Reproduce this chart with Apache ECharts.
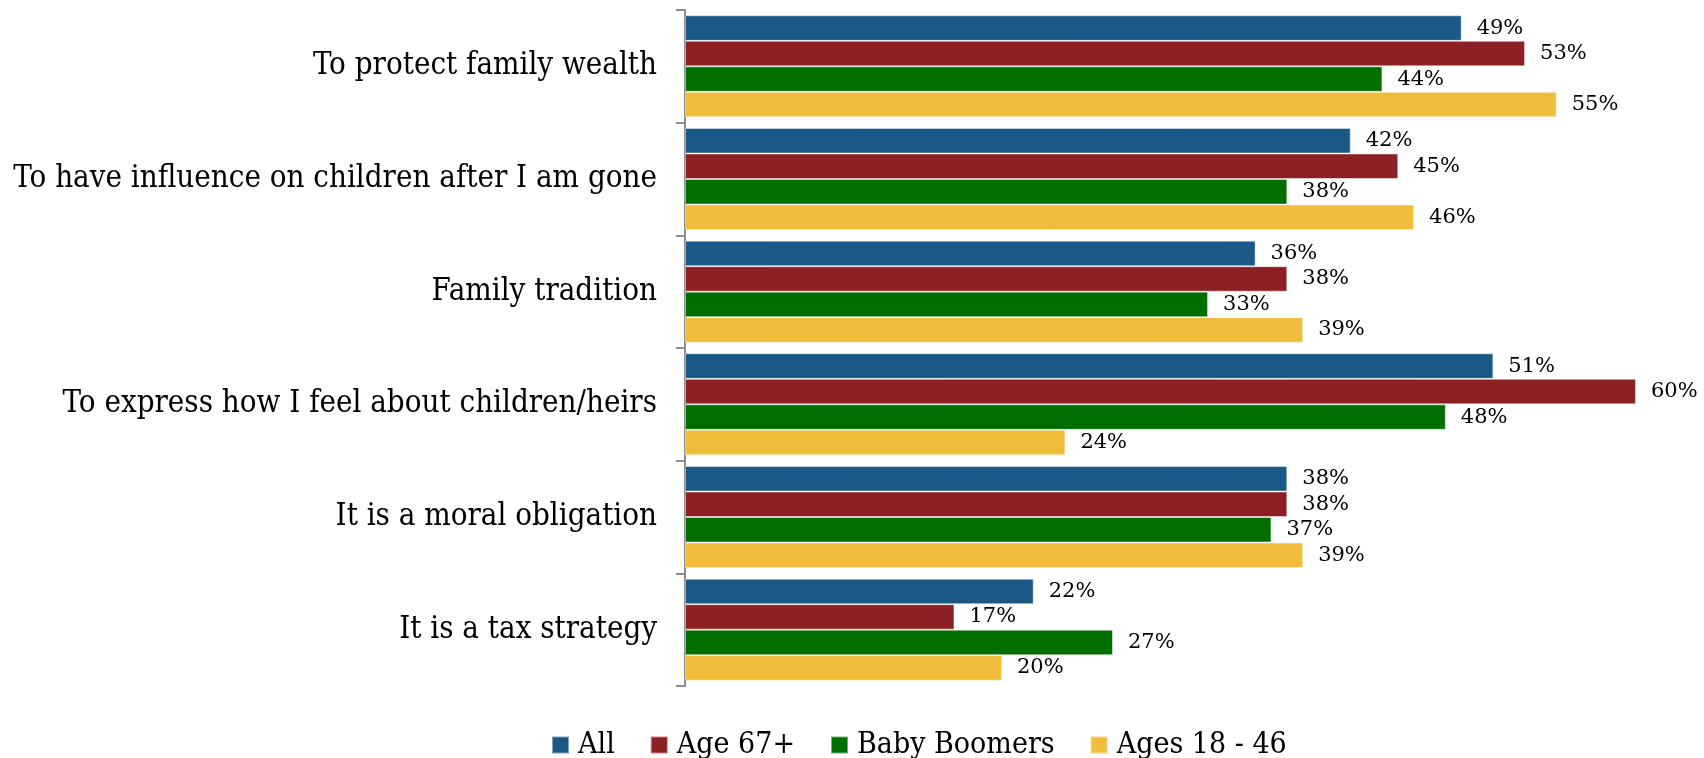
<!DOCTYPE html>
<html>
<head>
<meta charset="utf-8">
<script src="https://cdn.jsdelivr.net/npm/echarts@6/dist/echarts.min.js"></script>
<style>
  html, body { margin: 0; padding: 0; background: #ffffff; }
  #chart { width: 1704px; height: 758px; }
</style>
</head>
<body>
<div id="chart"></div>
<script>
// Reasons for estate planning, share of respondents by age group (%)
const categories = [
  'To protect family wealth',
  'To have influence on children after I am gone',
  'Family tradition',
  'To express how I feel about children/heirs',
  'It is a moral obligation',
  'It is a tax strategy'
];
const seriesNames = ['All', 'Age 67+', 'Baby Boomers', 'Ages 18 - 46'];
const allValues = [49, 42, 36, 51, 38, 22];
const age67Values = [53, 45, 38, 60, 38, 17];
const boomerValues = [44, 38, 33, 48, 37, 27];
const age18to46Values = [55, 46, 39, 24, 39, 20];

const colors = ['#1a5887', '#8c2023', '#006f00', '#f2bc3b'];
const serifCond = "'DejaVu Serif Condensed', 'DejaVu Serif', serif";
const serif = "'DejaVu Serif', serif";

const chart = echarts.init(document.getElementById('chart'), null, { renderer: 'canvas' });

function barSeries(name, data, color) {
  return {
    name: name,
    type: 'bar',
    data: data,
    barGap: '0%',
    barCategoryGap: '9.5%',
    itemStyle: { color: color, borderColor: 'rgba(255,255,255,0.45)', borderWidth: 1 },
    label: {
      show: true,
      position: 'right',
      distance: 15,
      formatter: '{c}%',
      color: '#000000',
      fontFamily: serif,
      fontSize: 21
    },
    emphasis: { disabled: true }
  };
}

chart.setOption({
  animation: false,
  color: colors,
  grid: { left: 685, right: 68, top: 10, bottom: 72, containLabel: false },
  legend: {
    left: 546,
    top: 725,
    itemWidth: 17,
    itemHeight: 17,
    itemGap: 35,
    icon: 'rect',
    textStyle: { fontFamily: serifCond, fontSize: 30, color: '#000000', padding: [0, 0, 0, 4] },
    data: seriesNames
  },
  xAxis: {
    type: 'value',
    min: 0,
    max: 60,
    show: false
  },
  yAxis: {
    type: 'category',
    data: categories,
    inverse: true,
    axisLine: { show: true, lineStyle: { color: '#8c8c8c', width: 2 } },
    axisTick: { show: true, length: 9, lineStyle: { color: '#8c8c8c', width: 2 } },
    axisLabel: { margin: 28, fontFamily: serifCond, fontSize: 31, color: '#000000' }
  },
  series: [
    barSeries(seriesNames[0], allValues, colors[0]),
    barSeries(seriesNames[1], age67Values, colors[1]),
    barSeries(seriesNames[2], boomerValues, colors[2]),
    barSeries(seriesNames[3], age18to46Values, colors[3])
  ]
});
</script>
</body>
</html>
